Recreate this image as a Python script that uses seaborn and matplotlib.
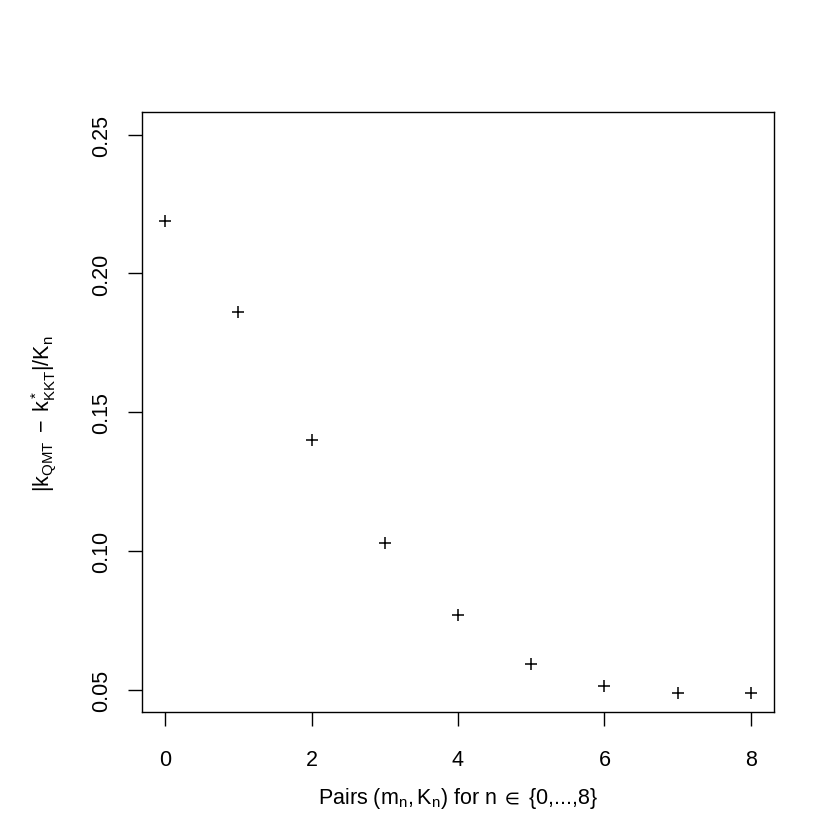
import numpy as np
import pandas as pd
import matplotlib
matplotlib.use("Agg")
import matplotlib.pyplot as plt
import seaborn as sns

# pair index n and relative gap |k_QMT - k*_KKT| / K_n
pair_index = [0, 1, 2, 3, 4, 5, 6, 7, 8]
rel_gap = [0.2188, 0.1861, 0.1402, 0.1031, 0.0770, 0.0593, 0.0517, 0.0489, 0.0489]
x_ticks = [0, 2, 4, 6, 8]
y_ticks = [0.05, 0.10, 0.15, 0.20, 0.25]

sns.set_style("white")
plt.rcParams['font.family'] = ['Liberation Sans', 'DejaVu Sans']
plt.rcParams['mathtext.fontset'] = 'custom'
plt.rcParams['mathtext.rm'] = 'Liberation Sans'
plt.rcParams['mathtext.it'] = 'Liberation Sans'
plt.rcParams['mathtext.bf'] = 'Liberation Sans:bold'
plt.rcParams['mathtext.fallback'] = 'stixsans'
plt.rcParams['text.color'] = 'black'
plt.rcParams['axes.labelcolor'] = 'black'

df = pd.DataFrame({'n': pair_index, 'gap': rel_gap})

fig = plt.figure(figsize=(8.3, 8.28), dpi=100)
ax = fig.add_axes([0.1707, 0.1383, 0.7622, 0.7249])

sns.scatterplot(data=df, x='n', y='gap', marker='+', color='black',
                s=80, linewidth=1.1, ax=ax)

# R-style 4% padding around the data range
ax.set_xlim(-0.32, 8.32)
ax.set_ylim(0.05 - 0.008, 0.25 + 0.008)
ax.set_xticks(x_ticks)
ax.set_xticklabels([str(t) for t in x_ticks])
ax.set_yticks(y_ticks)
ax.set_yticklabels([f'{t:.2f}' for t in y_ticks], rotation=90, va='center')

for side in ax.spines.values():
    side.set_visible(True)
    side.set_color('black')
    side.set_linewidth(1.0)

ax.tick_params(axis='both', direction='out', length=10, width=1.0,
               bottom=True, left=True, top=False, right=False,
               color='black', labelsize=15.5, labelcolor='black')
ax.tick_params(axis='x', pad=16)
ax.tick_params(axis='y', pad=11)

ax.set_xlabel(r'Pairs $(\mathrm{m_n,K_n})$ for n$\;\in\;${0,...,8}', fontsize=15.5, labelpad=11)
ax.set_ylabel(r'$|\mathrm{k_{QMT}}\;-\;\mathrm{k^*_{KKT}}|/\mathrm{K_n}$', fontsize=15.5, labelpad=24)

fig.savefig('out.png', dpi=100, facecolor='white')
